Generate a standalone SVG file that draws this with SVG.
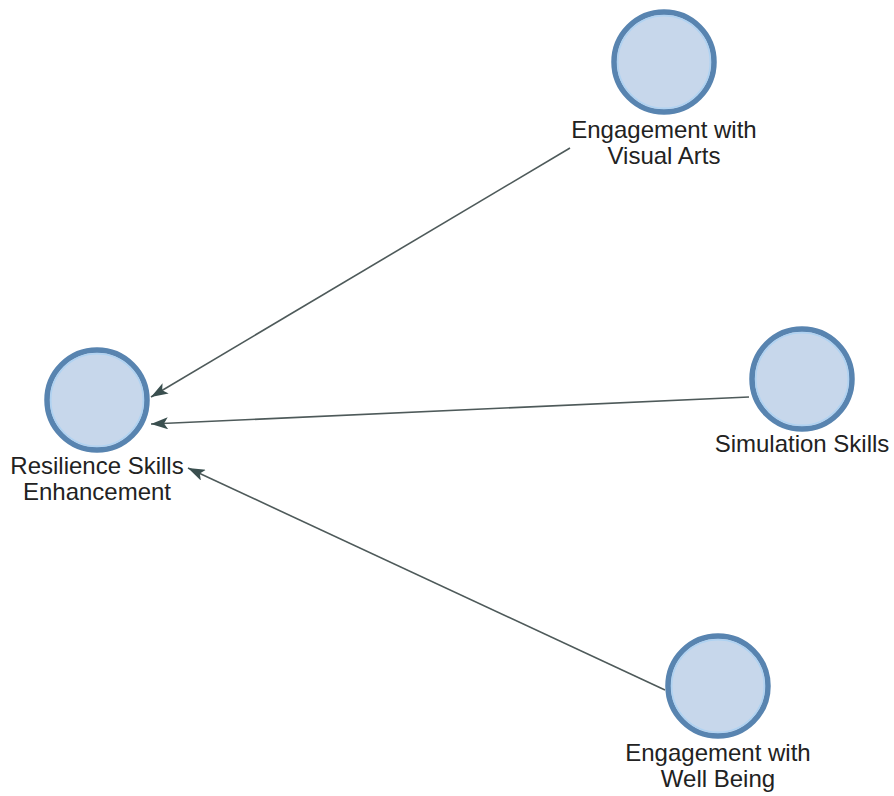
<svg xmlns="http://www.w3.org/2000/svg" width="894" height="796" viewBox="0 0 894 796">
<style>
.node circle.o{fill:#c7d7eb;stroke:#5884b0;stroke-width:5.5}
.node circle.i{fill:none;stroke:#aed2f2;stroke-width:1.5}
.node text{font-family:"Liberation Sans",Arial,sans-serif;font-size:24px;fill:#222;text-anchor:middle}
.edge{stroke:#4e5a5a;stroke-width:1.6;fill:none;marker-end:url(#ah)}
</style>
<defs>
<marker id="ah" markerUnits="userSpaceOnUse" markerWidth="18" markerHeight="12" viewBox="0 0 18 12" refX="17" refY="6" orient="auto">
<path d="M0,0 L17,6 L0,12 L4,6 Z" fill="#3a4f4f"/>
</marker>
</defs>
<rect width="894" height="796" fill="#fff"/>
<g id="connectors">
<line class="edge" x1="570" y1="148" x2="151" y2="397"/>
<line class="edge" x1="749" y1="397" x2="151" y2="424"/>
<line class="edge" x1="665" y1="690" x2="188" y2="468"/>
</g>
<g id="visual-arts" class="node">
<circle class="o" cx="664" cy="62" r="50"/>
<circle class="i" cx="664" cy="62" r="46.3"/>
<text x="664" y="138">Engagement with</text>
<text x="664" y="164">Visual Arts</text>
</g>
<g id="resilience" class="node">
<circle class="o" cx="97" cy="400" r="50"/>
<circle class="i" cx="97" cy="400" r="46.3"/>
<text x="97" y="474">Resilience Skills</text>
<text x="97" y="500">Enhancement</text>
</g>
<g id="simulation" class="node">
<circle class="o" cx="802" cy="379" r="50"/>
<circle class="i" cx="802" cy="379" r="46.3"/>
<text x="802" y="452">Simulation Skills</text>
</g>
<g id="well-being" class="node">
<circle class="o" cx="718" cy="686" r="50"/>
<circle class="i" cx="718" cy="686" r="46.3"/>
<text x="718" y="761">Engagement with</text>
<text x="718" y="787">Well Being</text>
</g>
</svg>
